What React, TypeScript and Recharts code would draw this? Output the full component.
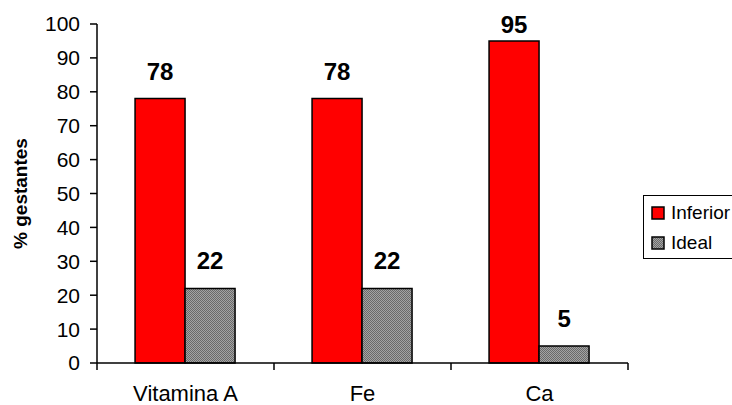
import React from "react";
import {
  BarChart,
  Bar,
  XAxis,
  YAxis,
  LabelList,
} from "recharts";

const nutrients = ["Vitamina A", "Fe", "Ca"];
const inferior = [78, 78, 95];
const ideal = [22, 22, 5];
const yTicks = [0, 10, 20, 30, 40, 50, 60, 70, 80, 90, 100];

const data = nutrients.map((name, i) => ({
  name,
  Inferior: inferior[i],
  Ideal: ideal[i],
}));

const FONT = "'Liberation Sans', Arial, sans-serif";
const RED = "#ff0000";

// value labels sit above the bar, but never run past the top of the frame
const valueLabel = (props: any) => {
  const { x, y, width, value } = props;
  return (
    <text
      x={x + width / 2}
      y={Math.max(y - 19, 33)}
      textAnchor="middle"
      fontFamily={FONT}
      fontWeight="bold"
      fontSize={24}
      fill="#000"
    >
      {value}
    </text>
  );
};

// category label centred, tick marks on the band boundaries
const CategoryTick = (props: any) => {
  const { x, y, payload, index } = props;
  const half = payload?.offset ?? 88.5;
  return (
    <g>
      {index === 0 && (
        <line x1={x - half} x2={x - half} y1={y} y2={y + 7} stroke="#000" strokeWidth={1.5} />
      )}
      <line x1={x + half} x2={x + half} y1={y} y2={y + 7} stroke="#000" strokeWidth={1.5} />
      <text x={x} y={y + 38} textAnchor="middle" fontFamily={FONT} fontSize={22} fill="#000">
        {payload.value}
      </text>
    </g>
  );
};

const legendItems = [
  { name: "Inferior", fill: RED },
  { name: "Ideal", fill: "url(#dither)" },
];

const LegendBox = () => (
  <div
    style={{
      position: "absolute",
      left: 643,
      top: 195,
      width: 100,
      height: 64,
      border: "1.5px solid #000",
      background: "#fff",
      fontFamily: FONT,
      fontSize: 19,
      color: "#000",
      boxSizing: "border-box",
    }}
  >
    {legendItems.map((item, i) => (
      <div
        key={item.name}
        style={{ display: "flex", alignItems: "center", position: "absolute", left: 7, top: 7 + i * 30 }}
      >
        <svg width={14} height={14} style={{ marginRight: 6 }}>
          <rect x={1} y={1} width={12} height={12} fill={item.fill} stroke="#000" strokeWidth={1.5} />
        </svg>
        <span style={{ lineHeight: "20px" }}>{item.name}</span>
      </div>
    ))}
  </div>
);

export default function App() {
  return (
    <div
      style={{
        position: "absolute",
        left: 0,
        top: 0,
        width: 732,
        height: 405,
        overflow: "hidden",
        background: "#fff",
      }}
    >
      <BarChart
        width={732}
        height={405}
        data={data}
        margin={{ top: 24, right: 104, bottom: 0, left: 0 }}
        barCategoryGap="21.5%"
        barGap={0}
      >
        <defs>
          <pattern id="dither" width={2} height={2} patternUnits="userSpaceOnUse">
            <rect width={2} height={2} fill="#a4a4a4" />
            <rect width={1} height={1} fill="#6a6a6a" />
            <rect x={1} y={1} width={1} height={1} fill="#6a6a6a" />
          </pattern>
        </defs>
        {/* grey frame on top and right */}
        <XAxis
          xAxisId="top"
          orientation="top"
          dataKey="name"
          tick={false}
          tickLine={false}
          height={0}
          axisLine={{ stroke: "#808080", strokeWidth: 1.5 }}
        />
        <YAxis
          yAxisId="right"
          orientation="right"
          domain={[0, 100]}
          tick={false}
          tickLine={false}
          width={0}
          axisLine={{ stroke: "#808080", strokeWidth: 1.5 }}
        />
        <XAxis
          dataKey="name"
          height={42}
          tickLine={false}
          tickSize={0}
          tickMargin={0}
          tick={<CategoryTick />}
          axisLine={{ stroke: "#000", strokeWidth: 1.5 }}
          interval={0}
        />
        <YAxis
          width={97}
          domain={[0, 100]}
          ticks={yTicks}
          interval={0}
          tickSize={7}
          tickMargin={10}
          tickLine={{ stroke: "#000", strokeWidth: 1.5 }}
          axisLine={{ stroke: "#000", strokeWidth: 1.5 }}
          tick={{ fill: "#000", fontFamily: FONT, fontSize: 21 }}
          label={{
            value: "% gestantes",
            angle: -90,
            position: "insideLeft",
            offset: 20,
            style: {
              fontFamily: FONT,
              fontWeight: "bold",
              fontSize: 19,
              fill: "#000",
              textAnchor: "middle",
            },
          }}
        />
        <Bar
          dataKey="Inferior"
          fill={RED}
          stroke="#000"
          strokeWidth={1.5}
          isAnimationActive={false}
        >
          <LabelList dataKey="Inferior" content={valueLabel} />
        </Bar>
        <Bar
          dataKey="Ideal"
          fill="url(#dither)"
          stroke="#000"
          strokeWidth={1.5}
          isAnimationActive={false}
        >
          <LabelList dataKey="Ideal" content={valueLabel} />
        </Bar>
      </BarChart>
      <LegendBox />
    </div>
  );
}
